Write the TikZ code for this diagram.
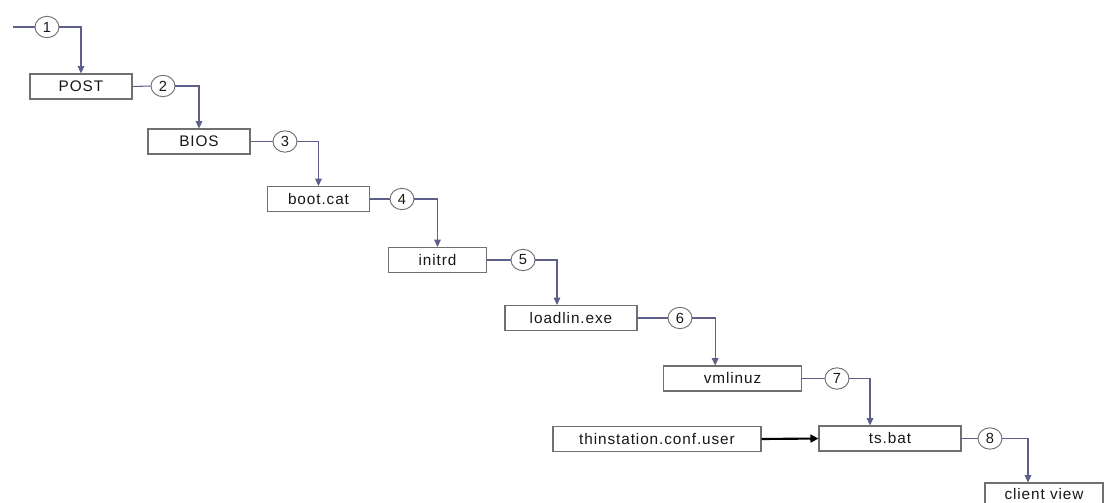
\documentclass[tikz,border=0pt]{standalone}
\usepackage{fontspec}
\newfontfamily\bootfont[LetterSpace=6]{Liberation Sans}
\usetikzlibrary{arrows.meta,shapes.geometric}
\definecolor{bootlinha}{HTML}{5F5F8C}
\definecolor{bootborda}{HTML}{707070}
\definecolor{boottexto}{HTML}{181818}
\tikzset{
  bootbox/.style={draw=bootborda, fill=white, line width=0.8pt, inner sep=0pt,
                  minimum height=18.75pt, text=boottexto, font=\bootfont\fontsize{11.5}{13}\selectfont},
  bootnum/.style={ellipse, draw=bootborda, line width=0.7pt, inner sep=0pt,
                  minimum width=18pt, minimum height=16pt, text=boottexto,
                  font=\bootfont\fontsize{11}{13}\selectfont},
  bootliga/.style={draw=bootlinha, line width=0.8pt},
  bootseta/.style={-{Triangle[length=5.5pt,width=5pt]}, draw=bootlinha, line width=0.8pt},
  bootforte/.style={-{Triangle[length=6pt,width=6pt]}, draw=black, line width=1.6pt},
}
\begin{document}
\begin{tikzpicture}[x=0.75pt, y=-0.75pt]
    \useasboundingbox (0,0) rectangle (1107,503);
    \clip (0,0) rectangle (1107,503);
    % etapas do boot
    \node[bootbox, minimum width=76.5pt]  (post)    at (81,86.5)   {POST};
    \node[bootbox, minimum width=76.5pt]  (bios)    at (199,141.5) {BIOS};
    \node[bootbox, minimum width=77pt]    (bootcat) at (318.5,199) {boot.cat};
    \node[bootbox, minimum width=74pt]    (initrd)  at (437.5,260) {initrd};
    \node[bootbox, minimum width=99pt]    (loadlin) at (571,318)   {loadlin.exe};
    \node[bootbox, minimum width=104pt]   (vmlinuz) at (732.5,378.5) {vmlinuz};
    \node[bootbox, minimum width=156pt]   (thin)    at (657,439)   {thinstation.conf.user};
    \node[bootbox, minimum width=106.5pt] (tsbat)   at (890,438.5) {ts.bat};
    \node[bootbox, minimum width=88.5pt, minimum height=16.5pt] (client) at (1044,494) {client view};
    % numeros dos passos
    \node[bootnum] (n1) at (47,27)    {1};
    \node[bootnum] (n2) at (163,86)   {2};
    \node[bootnum] (n3) at (285,141.5) {3};
    \node[bootnum] (n4) at (402,199)  {4};
    \node[bootnum] (n5) at (523,260)  {5};
    \node[bootnum] (n6) at (680,318)  {6};
    \node[bootnum] (n7) at (837,378.5) {7};
    \node[bootnum] (n8) at (990,438.5) {8};
    \coordinate (inicio) at (13,27);
    % ligacoes
    \draw[bootliga] (inicio) -- (n1.west);
    \draw[bootseta] (n1.east) -| (post.north);
    \draw[bootliga] (post.east) -- (n2.west);
    \draw[bootseta] (n2.east) -| (bios.north);
    \draw[bootliga] (bios.east) -- (n3.west);
    \draw[bootseta] (n3.east) -| (bootcat.north);
    \draw[bootliga] (bootcat.east) -- (n4.west);
    \draw[bootseta] (n4.east) -| (initrd.north);
    \draw[bootliga] (initrd.east) -- (n5.west);
    \draw[bootseta] (n5.east) -| ([xshift=-10.5pt]loadlin.north);
    \draw[bootliga] (loadlin.east) -- (n6.west);
    \draw[bootseta] (n6.east) -| ([xshift=-13pt]vmlinuz.north);
    \draw[bootliga] (vmlinuz.east) -- (n7.west);
    \draw[bootseta] (n7.east) -| ([xshift=-15pt]tsbat.north);
    \draw[bootforte] (thin.east) -- (tsbat.west);
    \draw[bootliga] (tsbat.east) -- (n8.west);
    \draw[bootseta] (n8.east) -| ([xshift=-12pt]client.north);
\end{tikzpicture}
\end{document}
